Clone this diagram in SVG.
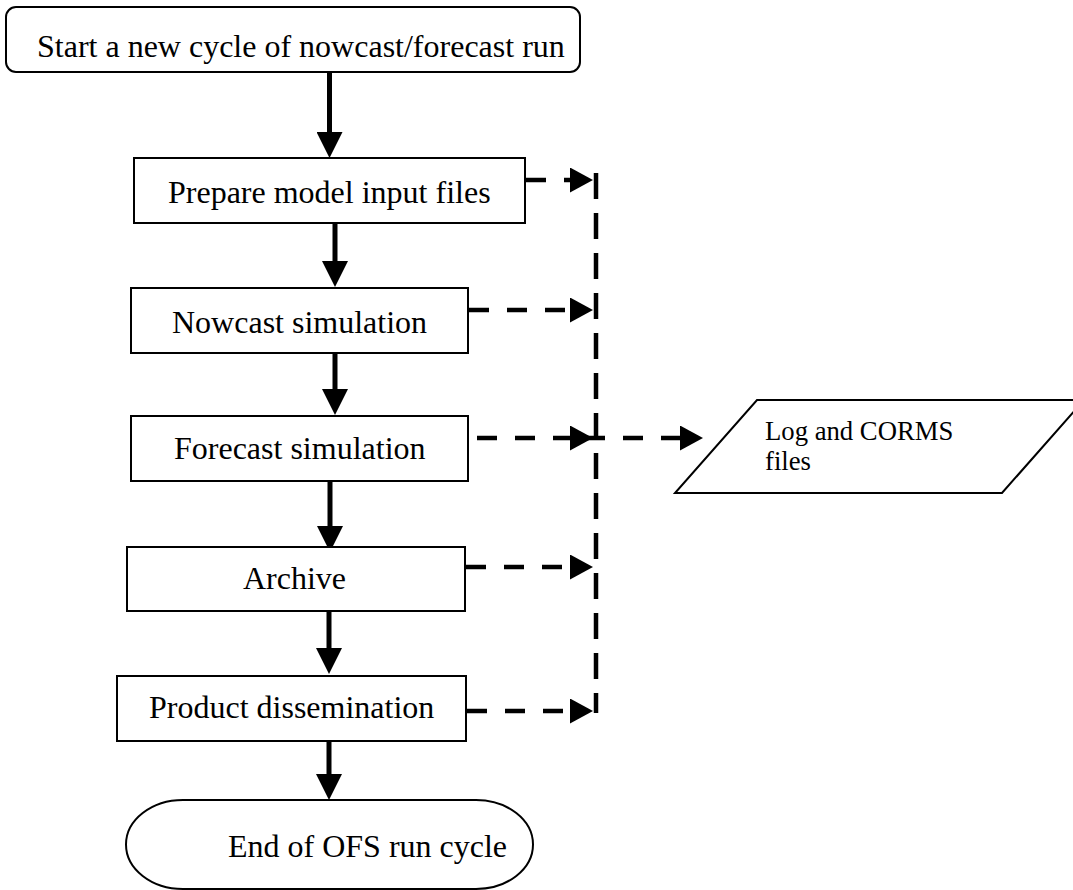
<svg xmlns="http://www.w3.org/2000/svg" width="1073" height="890" viewBox="0 0 1073 890">
<style>
.box{fill:#fff;stroke:#000;stroke-width:2}
.t{font-family:"Liberation Serif","Times New Roman",serif;font-size:32px;fill:#000}
.ts{font-family:"Liberation Serif","Times New Roman",serif;font-size:26.7px;fill:#000}
.solid{stroke:#000;stroke-width:5;fill:none}
.dash{stroke:#000;stroke-width:4.5;fill:none;stroke-dasharray:20 18}
.vdash{stroke:#000;stroke-width:4.5;fill:none;stroke-dasharray:26 14}
</style>
<defs>
<marker id="sa" markerUnits="userSpaceOnUse" markerWidth="26" markerHeight="26" refX="1" refY="13" orient="auto">
<path d="M0,0 L26,13 L0,26 Z" fill="#000"/>
</marker>
<marker id="da" markerUnits="userSpaceOnUse" markerWidth="24" markerHeight="25" refX="1" refY="12.5" orient="auto">
<path d="M0,0 L23,12.5 L0,25 Z" fill="#000"/>
</marker>
</defs>
<rect width="1073" height="890" fill="#fff"/>
<g id="connectors">
<line class="solid" x1="329.5" y1="72" x2="329.5" y2="133" marker-end="url(#sa)"/>
<line class="solid" x1="335" y1="223" x2="335" y2="262" marker-end="url(#sa)"/>
<line class="solid" x1="335" y1="353" x2="335" y2="390" marker-end="url(#sa)"/>
<line class="solid" x1="330" y1="481" x2="330" y2="527" marker-end="url(#sa)"/>
<line class="solid" x1="329" y1="611" x2="329" y2="649" marker-end="url(#sa)"/>
<line class="solid" x1="329" y1="741" x2="329" y2="775" marker-end="url(#sa)"/>
<line class="dash" x1="526" y1="180" x2="571" y2="180" marker-end="url(#da)"/>
<line class="dash" x1="469" y1="310" x2="571" y2="310" marker-end="url(#da)"/>
<line class="dash" x1="477" y1="438" x2="571" y2="438" marker-end="url(#da)"/>
<line class="dash" x1="466" y1="567" x2="571" y2="567" marker-end="url(#da)"/>
<line class="dash" x1="467" y1="711" x2="571" y2="711" marker-end="url(#da)"/>
<line class="vdash" x1="596" y1="173" x2="596" y2="713"/>
<line class="dash" x1="585" y1="438" x2="681" y2="438" marker-end="url(#da)"/>
</g>
<g id="start">
<rect class="box" x="6" y="7" width="574" height="65" rx="10"/>
<text class="t" x="37" y="57">Start a new cycle of nowcast/forecast run</text>
</g>
<g id="prepare">
<rect class="box" x="134" y="158" width="391" height="65"/>
<text class="t" x="168" y="203">Prepare model input files</text>
</g>
<g id="nowcast">
<rect class="box" x="131" y="288" width="337" height="65"/>
<text class="t" x="172" y="333">Nowcast simulation</text>
</g>
<g id="forecast">
<rect class="box" x="131" y="416" width="337" height="65"/>
<text class="t" x="174" y="459">Forecast simulation</text>
</g>
<g id="archive">
<rect class="box" x="127" y="547" width="338" height="64"/>
<text class="t" x="243" y="589">Archive</text>
</g>
<g id="product">
<rect class="box" x="117" y="676" width="349" height="65"/>
<text class="t" x="149" y="718">Product dissemination</text>
</g>
<g id="end">
<path class="box" d="M183,800 H476 A57,44.5 0 0 1 476,889 H183 A57,44.5 0 0 1 183,800 Z"/>
<text class="t" x="228" y="857">End of OFS run cycle</text>
</g>
<g id="logs">
<path class="box" d="M757,400 H1084 L1002,493 H675 Z"/>
<text class="ts" x="765" y="440">Log and CORMS</text>
<text class="ts" x="765" y="470">files</text>
</g>
</svg>
